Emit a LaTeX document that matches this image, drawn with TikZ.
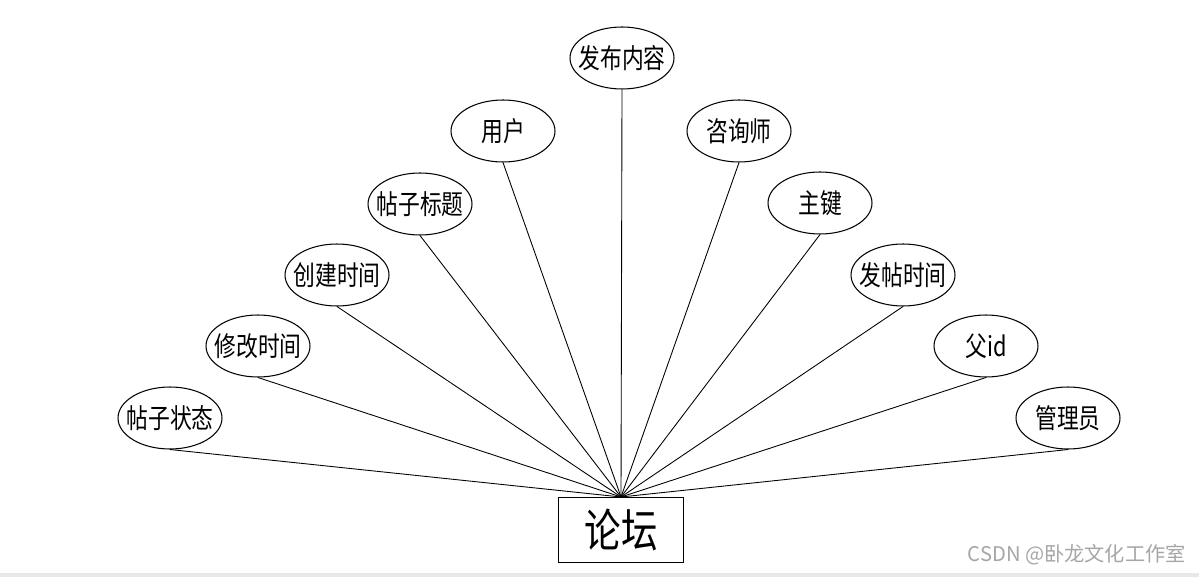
\documentclass[tikz,border=0pt]{standalone}
\usepackage{fontspec}
\newfontfamily\cjk{Noto Sans CJK SC}
\newfontfamily\cjkschmal[FakeStretch=0.8]{Noto Sans CJK SC}
\newcommand\ohnebreite[1]{\makebox[0pt]{#1}}
\usetikzlibrary{shapes.geometric}
\begin{document}
\begin{tikzpicture}[
    x=0.02cm,
    y=-0.02cm,
    font=\cjk,
    shuxing/.style={
        draw,
        ellipse,
        line width=0.6pt,
        minimum width=2.08cm,
        minimum height=1.24cm,
        inner sep=0pt,
        font=\cjkschmal\fontsize{15.5}{17}\selectfont
    },
    shiti/.style={
        draw,
        line width=0.6pt,
        minimum width=2.50cm,
        minimum height=1.30cm,
        inner sep=0pt,
        font=\cjkschmal\fontsize{26}{28}\selectfont
    },
    lianxian/.style={
        line width=0.5pt
    }
]
    \useasboundingbox[fill=white] (0,0) rectangle (1199,577);
    \fill[black!9] (0,573) rectangle (1199,577);

    \node[shiti] (luntan) at (621,530) {论坛};

    \node[shuxing] (neirong) at (622,58)   {\ohnebreite{发布内容}};
    \node[shuxing] (yonghu)  at (503,131)  {\ohnebreite{用户}};
    \node[shuxing] (zixun)   at (739,131)  {\ohnebreite{咨询师}};
    \node[shuxing] (biaoti)  at (420,204)  {\ohnebreite{帖子标题}};
    \node[shuxing] (zhujian) at (820,203)  {\ohnebreite{主键}};
    \node[shuxing] (chuangjian) at (337,275) {\ohnebreite{创建时间}};
    \node[shuxing] (fatie)   at (903,275)  {\ohnebreite{发帖时间}};
    \node[shuxing] (xiugai)  at (258,346)  {\ohnebreite{修改时间}};
    \node[shuxing] (fuid)    at (986,346)  {\ohnebreite{父id}};
    \node[shuxing] (zhuangtai) at (170,418) {\ohnebreite{帖子状态}};
    \node[shuxing] (guanli)  at (1068,418) {\ohnebreite{管理员}};

    \foreach \s in {neirong,yonghu,zixun,biaoti,zhujian,chuangjian,
                    fatie,xiugai,fuid,zhuangtai,guanli}
        \draw[lianxian] (\s.south) -- (luntan.north);

    \node[anchor=east,text=black!35,font=\cjk\fontsize{11.5}{13}\selectfont] (shuiyin) at (1192,555)
        {CSDN @卧龙文化工作室};
\end{tikzpicture}
\end{document}
